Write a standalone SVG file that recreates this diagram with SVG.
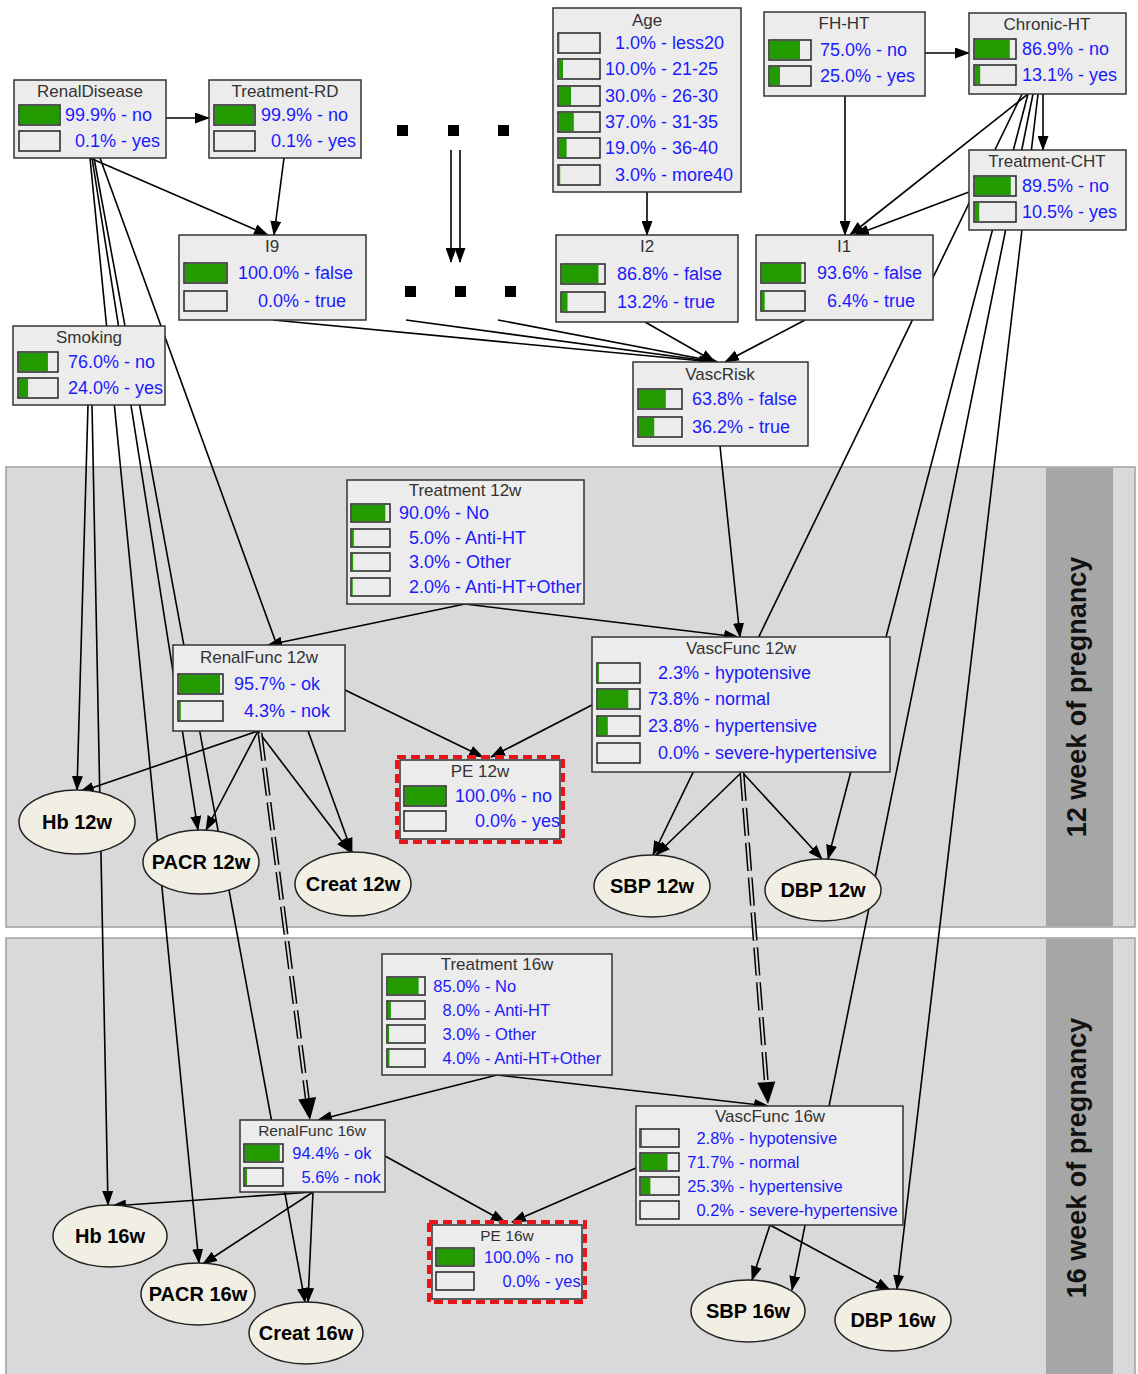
<svg xmlns="http://www.w3.org/2000/svg" width="1138" height="1374" viewBox="0 0 1138 1374">
<style>
.box{fill:#ececec;stroke:#333;stroke-width:1.5}
.bar{fill:#ececec;stroke:#222;stroke-width:1.5}
.g{fill:#229a00}
.t{font-family:"Liberation Sans",Arial,sans-serif;font-size:17px;fill:#333;text-anchor:middle}
.ts{font-family:"Liberation Sans",Arial,sans-serif;font-size:15.5px;fill:#333;text-anchor:middle}
.v{font-family:"Liberation Sans",Arial,sans-serif;font-size:18px;fill:#1a1aff}
.vs{font-family:"Liberation Sans",Arial,sans-serif;font-size:16.5px;fill:#1a1aff}
.e{text-anchor:end}
.ell{fill:#f1efe4;stroke:#222;stroke-width:1.5}
.el{font-family:"Liberation Sans",Arial,sans-serif;font-weight:bold;font-size:20px;text-anchor:middle;fill:#000}
.c{stroke:#000;stroke-width:1.6;fill:none;marker-end:url(#ah)}
.red{fill:none;stroke:#e8141a;stroke-width:4;stroke-dasharray:9 5}
.panel{fill:#d9d9d9;stroke:#a0a0a0;stroke-width:1.5}
.band{fill:#a6a6a6}
.pt{font-family:"Liberation Sans",Arial,sans-serif;font-weight:bold;font-size:27px;text-anchor:middle;fill:#111}
.dd{stroke:#000;stroke-width:5;fill:none;stroke-dasharray:28 7}
.ddi{stroke:#d9d9d9;stroke-width:2;fill:none;stroke-dasharray:28 7}
</style>
<defs>
<marker id="ah" markerUnits="userSpaceOnUse" markerWidth="15" markerHeight="11" refX="14" refY="5.5" orient="auto"><path d="M0,0 L15,5.5 L0,11 z" fill="#000"/></marker>
</defs>
<rect width="1138" height="1374" fill="#fff"/>
<g id="panels">
<rect class="panel" x="6" y="467" width="1129" height="460"/>
<rect class="band" x="1046" y="468" width="67" height="458"/>
<text class="pt" transform="translate(1086,697) rotate(-90)">12 week of pregnancy</text>
<rect class="panel" x="6" y="938" width="1129" height="440"/>
<rect class="band" x="1046" y="939" width="67" height="435"/>
<text class="pt" transform="translate(1086,1158) rotate(-90)">16 week of pregnancy</text>
</g>
<g id="connectors">
<path class="c" d="M166,118 L209,118"/>
<path class="c" d="M90,158 L268,235"/>
<path class="c" d="M284,158 L274,235"/>
<path class="c" d="M100,158 L352,852"/>
<path class="c" d="M92,158 L198,830"/>
<path class="c" d="M90,158 L199,1263"/>
<path class="c" d="M94,158 L305,1302"/>
<path class="c" d="M88,405 L77,790"/>
<path class="c" d="M92,405 L108,1205"/>
<path class="c" d="M451,150 L451,262"/>
<path class="c" d="M460,150 L460,262"/>
<path class="c" d="M925,53 L969,53"/>
<path class="c" d="M845,96 L845,235"/>
<path class="c" d="M1028,94 L850,235"/>
<path class="c" d="M969,192 L855,235"/>
<path class="c" d="M1043,94 L1043,150"/>
<path class="c" d="M647,192 L647,235"/>
<path class="c" d="M273,320 L713,362"/>
<path class="c" d="M406,320 L716,362"/>
<path class="c" d="M498,320 L718,362"/>
<path class="c" d="M645,322 L715,362"/>
<path class="c" d="M805,320 L725,362"/>
<path class="c" d="M1022,94 L653,855"/>
<path class="c" d="M1028,94 L828,859"/>
<path class="c" d="M1033,94 L792,1290"/>
<path class="c" d="M1038,94 L897,1289"/>
<path class="c" d="M720,446 L740,637"/>
<path class="c" d="M465,604 L268,645"/>
<path class="c" d="M465,604 L738,637"/>
<path class="c" d="M258,731 L80,792"/>
<path class="c" d="M258,731 L206,830"/>
<path class="c" d="M258,731 L350,852"/>
<path class="c" d="M345,690 L483,757"/>
<path class="c" d="M592,705 L491,757"/>
<path class="c" d="M742,772 L656,855"/>
<path class="c" d="M742,772 L822,859"/>
<path class="c" d="M497,1075 L318,1120"/>
<path class="c" d="M497,1075 L768,1106"/>
<path class="c" d="M313,1192 L112,1206"/>
<path class="c" d="M313,1192 L203,1264"/>
<path class="c" d="M313,1192 L308,1302"/>
<path class="c" d="M385,1156 L505,1222"/>
<path class="c" d="M636,1168 L512,1222"/>
<path class="c" d="M770,1225 L752,1280"/>
<path class="c" d="M770,1225 L890,1290"/>
<path class="dd" d="M260,733 L307.2,1098.2"/>
<path class="ddi" d="M260,733 L307.2,1098.2"/>
<polygon points="310,1120 316.1,1097 298.3,1099.4" fill="#000"/>
<path class="dd" d="M742,773 L766.3,1082.1"/>
<path class="ddi" d="M742,773 L766.3,1082.1"/>
<polygon points="768,1104 775.3,1081.4 757.3,1082.8" fill="#000"/>
</g>
<g id="dots" fill="#000">
<rect x="397" y="125" width="11" height="11"/><rect x="448" y="125" width="11" height="11"/><rect x="498" y="125" width="11" height="11"/>
<rect x="405" y="286" width="11" height="11"/><rect x="455" y="286" width="11" height="11"/><rect x="505" y="286" width="11" height="11"/>
</g>
<g id="RenalDisease">
<rect class="box" x="14" y="80" width="152" height="78"/>
<text class="t" x="90" y="97">RenalDisease</text>
<rect class="bar" x="19" y="105" width="41" height="20"/><rect class="g" x="20" y="106" width="39" height="18"/>
<rect class="bar" x="19" y="131" width="41" height="20"/>
<text class="v e" x="116" y="121">99.9%</text><text class="v" x="121" y="121">- no</text>
<text class="v e" x="116" y="147">0.1%</text><text class="v" x="121" y="147">- yes</text>
</g>
<g id="Treatment-RD">
<rect class="box" x="209" y="80" width="152" height="78"/>
<text class="t" x="285" y="97">Treatment-RD</text>
<rect class="bar" x="214" y="105" width="41" height="20"/><rect class="g" x="215" y="106" width="39" height="18"/>
<rect class="bar" x="214" y="131" width="41" height="20"/>
<text class="v e" x="312" y="121">99.9%</text><text class="v" x="317" y="121">- no</text>
<text class="v e" x="312" y="147">0.1%</text><text class="v" x="317" y="147">- yes</text>
</g>
<g id="Age">
<rect class="box" x="553" y="8" width="188" height="184"/>
<text class="t" x="647" y="26">Age</text>
<rect class="bar" x="558" y="33" width="42" height="20"/><rect class="g" x="559" y="34" width="0.4" height="18"/>
<rect class="bar" x="558" y="59" width="42" height="20"/><rect class="g" x="559" y="60" width="4" height="18"/>
<rect class="bar" x="558" y="86" width="42" height="20"/><rect class="g" x="559" y="87" width="12" height="18"/>
<rect class="bar" x="558" y="112" width="42" height="20"/><rect class="g" x="559" y="113" width="14.8" height="18"/>
<rect class="bar" x="558" y="138" width="42" height="20"/><rect class="g" x="559" y="139" width="7.6" height="18"/>
<rect class="bar" x="558" y="165" width="42" height="20"/><rect class="g" x="559" y="166" width="1.2" height="18"/>
<text class="v e" x="656" y="49">1.0%</text><text class="v" x="661" y="49">- less20</text>
<text class="v e" x="656" y="75">10.0%</text><text class="v" x="661" y="75">- 21-25</text>
<text class="v e" x="656" y="102">30.0%</text><text class="v" x="661" y="102">- 26-30</text>
<text class="v e" x="656" y="128">37.0%</text><text class="v" x="661" y="128">- 31-35</text>
<text class="v e" x="656" y="154">19.0%</text><text class="v" x="661" y="154">- 36-40</text>
<text class="v e" x="656" y="181">3.0%</text><text class="v" x="661" y="181">- more40</text>
</g>
<g id="FH-HT">
<rect class="box" x="764" y="12" width="161" height="84"/>
<text class="t" x="844" y="29">FH-HT</text>
<rect class="bar" x="769" y="40" width="42" height="20"/><rect class="g" x="770" y="41" width="30" height="18"/>
<rect class="bar" x="769" y="66" width="42" height="20"/><rect class="g" x="770" y="67" width="10" height="18"/>
<text class="v e" x="871" y="56">75.0%</text><text class="v" x="876" y="56">- no</text>
<text class="v e" x="871" y="82">25.0%</text><text class="v" x="876" y="82">- yes</text>
</g>
<g id="Chronic-HT">
<rect class="box" x="969" y="13" width="157" height="81"/>
<text class="t" x="1047" y="30">Chronic-HT</text>
<rect class="bar" x="974" y="39" width="42" height="20"/><rect class="g" x="975" y="40" width="34.8" height="18"/>
<rect class="bar" x="974" y="65" width="42" height="20"/><rect class="g" x="975" y="66" width="5.2" height="18"/>
<text class="v e" x="1073" y="55">86.9%</text><text class="v" x="1078" y="55">- no</text>
<text class="v e" x="1073" y="81">13.1%</text><text class="v" x="1078" y="81">- yes</text>
</g>
<g id="Treatment-CHT">
<rect class="box" x="969" y="150" width="157" height="80"/>
<text class="t" x="1047" y="167">Treatment-CHT</text>
<rect class="bar" x="974" y="176" width="42" height="20"/><rect class="g" x="975" y="177" width="35.8" height="18"/>
<rect class="bar" x="974" y="202" width="42" height="20"/><rect class="g" x="975" y="203" width="4.2" height="18"/>
<text class="v e" x="1073" y="192">89.5%</text><text class="v" x="1078" y="192">- no</text>
<text class="v e" x="1073" y="218">10.5%</text><text class="v" x="1078" y="218">- yes</text>
</g>
<g id="I9">
<rect class="box" x="179" y="235" width="187" height="85"/>
<text class="t" x="272" y="252">I9</text>
<rect class="bar" x="184" y="263" width="43" height="20"/><rect class="g" x="185" y="264" width="41" height="18"/>
<rect class="bar" x="184" y="291" width="43" height="20"/>
<text class="v e" x="299" y="279">100.0%</text><text class="v" x="304" y="279">- false</text>
<text class="v e" x="299" y="307">0.0%</text><text class="v" x="304" y="307">- true</text>
</g>
<g id="I2">
<rect class="box" x="556" y="235" width="182" height="87"/>
<text class="t" x="647" y="252">I2</text>
<rect class="bar" x="561" y="264" width="44" height="20"/><rect class="g" x="562" y="265" width="36.5" height="18"/>
<rect class="bar" x="561" y="292" width="44" height="20"/><rect class="g" x="562" y="293" width="5.5" height="18"/>
<text class="v e" x="668" y="280">86.8%</text><text class="v" x="673" y="280">- false</text>
<text class="v e" x="668" y="308">13.2%</text><text class="v" x="673" y="308">- true</text>
</g>
<g id="I1">
<rect class="box" x="756" y="235" width="177" height="85"/>
<text class="t" x="844" y="252">I1</text>
<rect class="bar" x="761" y="263" width="44" height="20"/><rect class="g" x="762" y="264" width="39.3" height="18"/>
<rect class="bar" x="761" y="291" width="44" height="20"/><rect class="g" x="762" y="292" width="2.7" height="18"/>
<text class="v e" x="868" y="279">93.6%</text><text class="v" x="873" y="279">- false</text>
<text class="v e" x="868" y="307">6.4%</text><text class="v" x="873" y="307">- true</text>
</g>
<g id="Smoking">
<rect class="box" x="13" y="326" width="152" height="79"/>
<text class="t" x="89" y="343">Smoking</text>
<rect class="bar" x="18" y="352" width="40" height="20"/><rect class="g" x="19" y="353" width="28.9" height="18"/>
<rect class="bar" x="18" y="378" width="40" height="20"/><rect class="g" x="19" y="379" width="9.1" height="18"/>
<text class="v e" x="119" y="368">76.0%</text><text class="v" x="124" y="368">- no</text>
<text class="v e" x="119" y="394">24.0%</text><text class="v" x="124" y="394">- yes</text>
</g>
<g id="VascRisk">
<rect class="box" x="633" y="362" width="175" height="84"/>
<text class="t" x="720" y="380">VascRisk</text>
<rect class="bar" x="638" y="389" width="44" height="20"/><rect class="g" x="639" y="390" width="26.8" height="18"/>
<rect class="bar" x="638" y="417" width="44" height="20"/><rect class="g" x="639" y="418" width="15.2" height="18"/>
<text class="v e" x="743" y="405">63.8%</text><text class="v" x="748" y="405">- false</text>
<text class="v e" x="743" y="433">36.2%</text><text class="v" x="748" y="433">- true</text>
</g>
<g id="Treatment12w">
<rect class="box" x="347" y="480" width="237" height="124"/>
<text class="t" x="465" y="496">Treatment 12w</text>
<rect class="bar" x="351" y="504" width="39" height="18"/><rect class="g" x="352" y="505" width="33.3" height="16"/>
<rect class="bar" x="351" y="529" width="39" height="18"/><rect class="g" x="352" y="530" width="1.85" height="16"/>
<rect class="bar" x="351" y="553" width="39" height="18"/><rect class="g" x="352" y="554" width="1.1" height="16"/>
<rect class="bar" x="351" y="578" width="39" height="18"/><rect class="g" x="352" y="579" width="0.74" height="16"/>
<text class="v e" x="450" y="519">90.0%</text><text class="v" x="455" y="519">- No</text>
<text class="v e" x="450" y="544">5.0%</text><text class="v" x="455" y="544">- Anti-HT</text>
<text class="v e" x="450" y="568">3.0%</text><text class="v" x="455" y="568">- Other</text>
<text class="v e" x="450" y="593">2.0%</text><text class="v" x="455" y="593">- Anti-HT+Other</text>
</g>
<g id="RenalFunc12w">
<rect class="box" x="173" y="645" width="172" height="86"/>
<text class="t" x="259" y="663">RenalFunc 12w</text>
<rect class="bar" x="178" y="674" width="45" height="20"/><rect class="g" x="179" y="675" width="41.1" height="18"/>
<rect class="bar" x="178" y="701" width="45" height="20"/><rect class="g" x="179" y="702" width="1.8" height="18"/>
<text class="v e" x="285" y="690">95.7%</text><text class="v" x="290" y="690">- ok</text>
<text class="v e" x="285" y="717">4.3%</text><text class="v" x="290" y="717">- nok</text>
</g>
<g id="VascFunc12w">
<rect class="box" x="592" y="637" width="298" height="135"/>
<text class="t" x="741" y="654">VascFunc 12w</text>
<rect class="bar" x="597" y="663" width="43" height="20"/><rect class="g" x="598" y="664" width="0.9" height="18"/>
<rect class="bar" x="597" y="689" width="43" height="20"/><rect class="g" x="598" y="690" width="30.3" height="18"/>
<rect class="bar" x="597" y="716" width="43" height="20"/><rect class="g" x="598" y="717" width="9.8" height="18"/>
<rect class="bar" x="597" y="743" width="43" height="20"/>
<text class="v e" x="699" y="679">2.3%</text><text class="v" x="704" y="679">- hypotensive</text>
<text class="v e" x="699" y="705">73.8%</text><text class="v" x="704" y="705">- normal</text>
<text class="v e" x="699" y="732">23.8%</text><text class="v" x="704" y="732">- hypertensive</text>
<text class="v e" x="699" y="759">0.0%</text><text class="v" x="704" y="759">- severe-hypertensive</text>
</g>
<g id="PE12w">
<rect class="box" x="400" y="760" width="160" height="79"/>
<rect class="red" x="397" y="757" width="166" height="85"/>
<text class="t" x="480" y="777">PE 12w</text>
<rect class="bar" x="404" y="786" width="42" height="20"/><rect class="g" x="405" y="787" width="40" height="18"/>
<rect class="bar" x="404" y="811" width="42" height="20"/>
<text class="v e" x="516" y="802">100.0%</text><text class="v" x="521" y="802">- no</text>
<text class="v e" x="516" y="827">0.0%</text><text class="v" x="521" y="827">- yes</text>
</g>
<g id="Treatment16w">
<rect class="box" x="382" y="954" width="230" height="121"/>
<text class="t" x="497" y="970">Treatment 16w</text>
<rect class="bar" x="387" y="977" width="38" height="18"/><rect class="g" x="388" y="978" width="30.6" height="16"/>
<rect class="bar" x="387" y="1001" width="38" height="18"/><rect class="g" x="388" y="1002" width="2.9" height="16"/>
<rect class="bar" x="387" y="1025" width="38" height="18"/><rect class="g" x="388" y="1026" width="1.1" height="16"/>
<rect class="bar" x="387" y="1049" width="38" height="18"/><rect class="g" x="388" y="1050" width="1.4" height="16"/>
<text class="vs e" x="480" y="992">85.0%</text><text class="vs" x="485" y="992">- No</text>
<text class="vs e" x="480" y="1016">8.0%</text><text class="vs" x="485" y="1016">- Anti-HT</text>
<text class="vs e" x="480" y="1040">3.0%</text><text class="vs" x="485" y="1040">- Other</text>
<text class="vs e" x="480" y="1064">4.0%</text><text class="vs" x="485" y="1064">- Anti-HT+Other</text>
</g>
<g id="RenalFunc16w">
<rect class="box" x="240" y="1120" width="145" height="72"/>
<text class="ts" x="312" y="1136">RenalFunc 16w</text>
<rect class="bar" x="244" y="1144" width="39" height="18"/><rect class="g" x="245" y="1145" width="34.8" height="16"/>
<rect class="bar" x="244" y="1168" width="39" height="18"/><rect class="g" x="245" y="1169" width="2.1" height="16"/>
<text class="vs e" x="339" y="1159">94.4%</text><text class="vs" x="344" y="1159">- ok</text>
<text class="vs e" x="339" y="1183">5.6%</text><text class="vs" x="344" y="1183">- nok</text>
</g>
<g id="VascFunc16w">
<rect class="box" x="636" y="1106" width="267" height="119"/>
<text class="t" x="770" y="1122">VascFunc 16w</text>
<rect class="bar" x="640" y="1129" width="39" height="18"/><rect class="g" x="641" y="1130" width="1" height="16"/>
<rect class="bar" x="640" y="1153" width="39" height="18"/><rect class="g" x="641" y="1154" width="26.5" height="16"/>
<rect class="bar" x="640" y="1177" width="39" height="18"/><rect class="g" x="641" y="1178" width="9.4" height="16"/>
<rect class="bar" x="640" y="1201" width="39" height="18"/>
<text class="vs e" x="734" y="1144">2.8%</text><text class="vs" x="739" y="1144">- hypotensive</text>
<text class="vs e" x="734" y="1168">71.7%</text><text class="vs" x="739" y="1168">- normal</text>
<text class="vs e" x="734" y="1192">25.3%</text><text class="vs" x="739" y="1192">- hypertensive</text>
<text class="vs e" x="734" y="1216">0.2%</text><text class="vs" x="739" y="1216">- severe-hypertensive</text>
</g>
<g id="PE16w">
<rect class="box" x="432" y="1225" width="150" height="74"/>
<rect class="red" x="429" y="1222" width="156" height="80"/>
<text class="ts" x="507" y="1241">PE 16w</text>
<rect class="bar" x="436" y="1248" width="38" height="18"/><rect class="g" x="437" y="1249" width="36" height="16"/>
<rect class="bar" x="436" y="1272" width="38" height="18"/>
<text class="vs e" x="540" y="1263">100.0%</text><text class="vs" x="545" y="1263">- no</text>
<text class="vs e" x="540" y="1287">0.0%</text><text class="vs" x="545" y="1287">- yes</text>
</g>
<g id="Hb12w"><ellipse class="ell" cx="77" cy="822" rx="58" ry="32"/><text class="el" x="77" y="829">Hb 12w</text></g>
<g id="PACR12w"><ellipse class="ell" cx="201" cy="862" rx="58" ry="32"/><text class="el" x="201" y="869">PACR 12w</text></g>
<g id="Creat12w"><ellipse class="ell" cx="353" cy="884" rx="58" ry="32"/><text class="el" x="353" y="891">Creat 12w</text></g>
<g id="SBP12w"><ellipse class="ell" cx="652" cy="886" rx="58" ry="31"/><text class="el" x="652" y="893">SBP 12w</text></g>
<g id="DBP12w"><ellipse class="ell" cx="823" cy="890" rx="58" ry="31"/><text class="el" x="823" y="897">DBP 12w</text></g>
<g id="Hb16w"><ellipse class="ell" cx="110" cy="1236" rx="57" ry="31"/><text class="el" x="110" y="1243">Hb 16w</text></g>
<g id="PACR16w"><ellipse class="ell" cx="198" cy="1294" rx="57" ry="31"/><text class="el" x="198" y="1301">PACR 16w</text></g>
<g id="Creat16w"><ellipse class="ell" cx="306" cy="1333" rx="57" ry="31"/><text class="el" x="306" y="1340">Creat 16w</text></g>
<g id="SBP16w"><ellipse class="ell" cx="748" cy="1311" rx="57" ry="31"/><text class="el" x="748" y="1318">SBP 16w</text></g>
<g id="DBP16w"><ellipse class="ell" cx="893" cy="1320" rx="58" ry="31"/><text class="el" x="893" y="1327">DBP 16w</text></g>
</svg>
